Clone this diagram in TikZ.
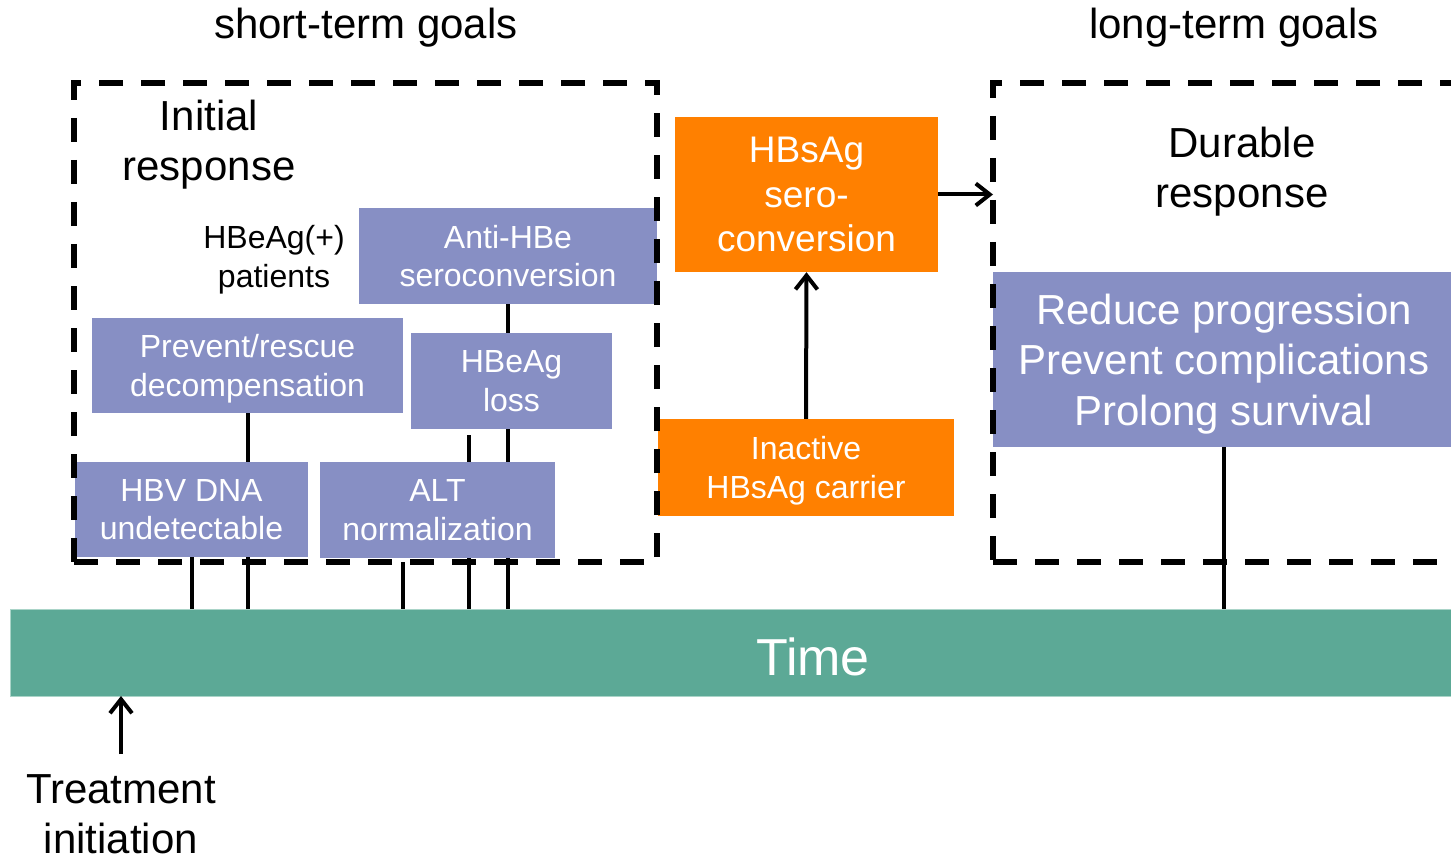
\documentclass[tikz,border=0pt]{standalone}
\usepackage{fontspec}
\setmainfont{Liberation Sans}
\usetikzlibrary{arrows.meta,backgrounds,calc}
\definecolor{boxpurple}{RGB}{135,143,196}
\definecolor{barteal}{RGB}{92,169,150}
\definecolor{barrim}{RGB}{170,212,200}
\definecolor{hborange}{RGB}{255,128,0}
\begin{document}
\begin{tikzpicture}[x=1pt,y=-1pt,
  fs/.style={font=\fontsize{32}{38.4}\selectfont},
  fl/.style={font=\fontsize{42}{50.4}\selectfont},
  fm/.style={font=\fontsize{37}{44.4}\selectfont},
  ml/.style={align=center, inner sep=0pt, text depth=0pt},
  pbox/.style={ml, fill=boxpurple, text=white},
  obox/.style={ml, fill=hborange, text=white},
  frame/.style={draw=black, line width=5.5pt, dash pattern=on 24pt off 18pt, inner sep=0pt, outer sep=0pt},
  conn/.style={draw=black, line width=4pt},
  arr/.style={draw=black, line width=4pt, -{Straight Barb[length=14pt,width=22pt]}}]
\useasboundingbox (0,0) rectangle (1451,861);
\clip (0,0) rectangle (1451,861);

% time bar
\node[fill=barteal, draw=barrim, line width=1pt, minimum width=1450pt, minimum height=87pt, inner sep=0pt, outer sep=0pt] (time) at (735,652.5) {};
\node[font=\fontsize{52}{62}\selectfont, text=white, anchor=base] (timelbl) at (813,675) {Time};

% headings
\node[fl, anchor=base] (stg) at (366,39) {short-term goals};
\node[fl, anchor=base] (ltg) at (1234,39) {long-term goals};
\node[fl, ml] (initial) at (209,140) {Initial\\response};
\node[fl, ml] (durable) at (1242,167) {Durable\\response};
\node[fs, ml] (hbeag) at (274,256.5) {HBeAg(+)\\patients};
\node[fl, ml] (treat) at (121,814) {Treatment\\initiation};

% purple boxes
\node[pbox, fs, minimum width=298pt, minimum height=96pt] (anti) at (508,256) {Anti-HBe\\seroconversion};
\node[pbox, fs, minimum width=311pt, minimum height=95pt] (prev) at (247.5,365.5) {Prevent/rescue\\decompensation};
\node[pbox, fs, minimum width=201pt, minimum height=96pt] (loss) at (511.5,381) {HBeAg\\loss};
\node[pbox, fs, minimum width=233pt, minimum height=95pt] (hbv) at (191.5,509.5) {HBV DNA\\undetectable};
\node[pbox, fs, minimum width=235pt, minimum height=96pt] (alt) at (437.5,510) {ALT\\normalization};
\node[pbox, fl, minimum width=462pt, minimum height=175pt] (reduce) at (1224,359.5) {Reduce progression\\Prevent complications\\Prolong survival};

% orange boxes
\node[obox, fm, minimum width=263pt, minimum height=155pt] (hbsag) at (806.5,194.5) {HBsAg\\sero-\\conversion};
\node[obox, fs, minimum width=296pt, minimum height=97pt] (inact) at (806,467.5) {Inactive\\HBsAg carrier};

% free ends of two marker lines
\coordinate (m403) at (403,562);
\coordinate (m469) at (469,435);

% marker lines to the time bar (behind the boxes)
\begin{pgfonlayer}{background}
\fill[white] (0,0) rectangle (1451,861);
\draw[conn] (hbv.south) -- (hbv.south |- time.north);
\draw[conn] (prev.south) -- (prev.south |- time.north);
\draw[conn] (m403) -- (m403 |- time.north);
\draw[conn] (m469) -- (m469 |- time.north);
\draw[conn] (anti.south) -- (anti.south |- time.north);
\draw[conn] (reduce.south) -- (reduce.south |- time.north);
\end{pgfonlayer}

% dashed frames
\node[frame, minimum width=583pt, minimum height=479pt] (shortframe) at (365.5,322.5) {};
\node[frame, minimum width=500pt, minimum height=479pt, anchor=west] (durframe) at (993,322.5) {};

% arrows
\draw[arr] (inact.north) -- (hbsag.south);
\draw[arr] (hbsag.east) -- (hbsag.east -| durframe.west);
\draw[arr, shorten <=20pt] (treat.north) -- (treat.north |- time.south);
\end{tikzpicture}
\end{document}
